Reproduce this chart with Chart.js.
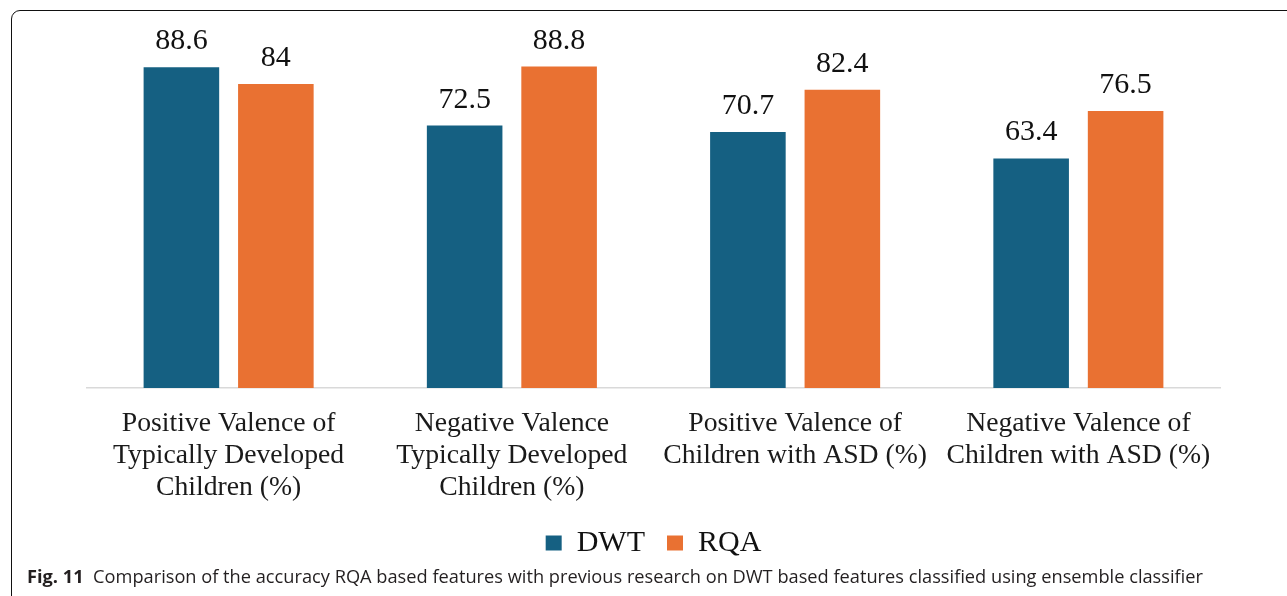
<!DOCTYPE html>
<html>
<head>
<meta charset="utf-8">
<script src="https://cdn.jsdelivr.net/npm/chart.js@4.4.1/dist/chart.umd.min.js"></script>
<style>
  html, body { margin: 0; padding: 0; background: #fff; }
  #wrap { position: relative; width: 1287px; height: 596px; overflow: hidden; background: #fff; }
  #chart { position: absolute; left: 0; top: 0; }
  #frame {
    position: absolute; left: 11px; top: 10px; width: 1320px; height: 600px;
    border: 1.6px solid #111; border-radius: 9px; box-sizing: border-box; pointer-events: none;
  }
  #caption {
    position: absolute; left: 27px; top: 567px; white-space: pre; line-height: 18px;
    font-family: "Open Sans", sans-serif; font-size: 18px; color: #231f20;
    transform-origin: 0 0;
  }
  #caption b { font-weight: 700; }
</style>
</head>
<body>
<div id="wrap">
  <canvas id="chart" width="1287" height="596"></canvas>
  <div id="frame"></div>
  <div id="caption"><b>Fig. 11</b>  Comparison of the accuracy RQA based features with previous research on DWT based features classified using ensemble classifier</div>
</div>
<script>
// Group labels (one array of lines per group)
const categories = [
  ["Positive Valence of", "Typically Developed", "Children (%)"],
  ["Negative Valence", "Typically Developed", "Children (%)"],
  ["Positive Valence of", "Children with ASD (%)"],
  ["Negative Valence of", "Children with ASD (%)"]
];
const seriesNames = ["DWT", "RQA"];
const dwtValues = [88.6, 72.5, 70.7, 63.4];
const rqaValues = [84, 88.8, 82.4, 76.5];
const seriesColors = ["#156082", "#E97132"];

const serif = '"Liberation Serif", "Times New Roman", serif';

// Value labels printed above each bar
const barValueLabels = {
  id: 'barValueLabels',
  afterDatasetsDraw(chart) {
    const ctx = chart.ctx;
    ctx.save();
    ctx.font = '30px ' + serif;
    ctx.fillStyle = '#111';
    ctx.textAlign = 'center';
    ctx.textBaseline = 'alphabetic';
    chart.data.datasets.forEach((ds, di) => {
      const meta = chart.getDatasetMeta(di);
      meta.data.forEach((bar, i) => {
        ctx.fillText(String(ds.data[i]), bar.x, bar.y - 18);
      });
    });
    ctx.restore();
  }
};

new Chart(document.getElementById('chart'), {
  type: 'bar',
  data: {
    labels: categories,
    datasets: [
      { label: seriesNames[0], data: dwtValues, backgroundColor: seriesColors[0] },
      { label: seriesNames[1], data: rqaValues, backgroundColor: seriesColors[1] }
    ]
  },
  options: {
    responsive: false,
    animation: false,
    layout: { padding: { left: 87, right: 67, top: 26, bottom: 28 } },
    datasets: { bar: { categoryPercentage: 0.667, barPercentage: 0.8 } },
    scales: {
      x: {
        grid: { display: false, drawTicks: false },
        border: { display: true, color: '#d9d9d9', width: 1.5 },
        ticks: {
          padding: 20,
          maxRotation: 0,
          autoSkip: false,
          color: '#1a1a1a',
          font: { family: serif, size: 27.7, lineHeight: '32px' }
        },
        afterFit(scale) { scale.height = 118; }
      },
      y: { display: false, min: 0, max: 100 }
    },
    plugins: {
      legend: {
        position: 'bottom',
        labels: {
          boxWidth: 16, boxHeight: 15, padding: 22,
          color: '#111',
          font: { family: serif, size: 30 }
        }
      },
      tooltip: { enabled: false }
    }
  },
  plugins: [barValueLabels]
});

// Fit caption line to its printed width
const cap = document.getElementById('caption');
const w = cap.getBoundingClientRect().width;
cap.style.transform = 'scaleX(' + (1176 / w) + ')';
</script>
</body>
</html>
